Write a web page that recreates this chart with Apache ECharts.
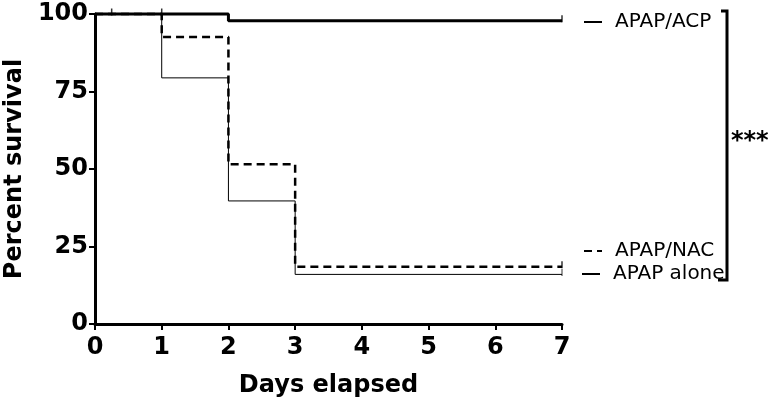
<!DOCTYPE html>
<html>
<head>
<meta charset="utf-8">
<script src="https://cdn.jsdelivr.net/npm/echarts@6/dist/echarts.min.js"></script>
<style>
  html, body { margin: 0; padding: 0; background: #fff; }
  #chart { width: 771px; height: 409px; }
</style>
</head>
<body>
<div id="chart"></div>
<script>
// 数据
const days = [0, 1, 2, 3, 7]
const acpValues = [100, 100, 97.8, 97.8, 97.8]
const nacValues = [100, 92.6, 51.5, 18.5, 18.5]
const aloneValues = [100, 79.4, 39.7, 16, 16]
// 删失标记
const acpCensored = [[0.25, 100], [1, 100], [7, 97.8]]
const nacCensored = [[7, 18.5]]
const aloneCensored = [[7, 16]]
const xTicks = [0, 1, 2, 3, 4, 5, 6, 7]
const yTicks = [0, 25, 50, 75, 100]

function pairs(xs, ys) {
    let out = []
    for (let i = 0; i < xs.length; i++) out.push([xs[i], ys[i]])
    return out
}

function censorSeries(data, width) {
    return {
        type: 'scatter',
        data: data,
        symbol: 'rect',
        symbolSize: [width, 7],
        symbolOffset: [0, -2],
        itemStyle: { color: '#000' },
        silent: true,
        clip: false,
        z: 5
    }
}

function legendAt(name, left, top) {
    return {
        data: [name],
        left: left,
        top: top,
        itemWidth: 18,
        itemHeight: 12,
        itemGap: 0,
        selectedMode: false,
        itemStyle: { opacity: 0 },
        textStyle: {
            fontFamily: 'DejaVu Sans',
            fontSize: 20,
            color: '#000',
            padding: [0, 0, 0, 8]
        }
    }
}

let myChart = echarts.init(document.getElementById('chart'))
myChart.setOption({
    animation: false,
    backgroundColor: '#fff',
    grid: { left: 95, right: 209, top: 14, bottom: 85, outerBoundsMode: 'none', containLabel: false },
    legend: [
        legendAt('APAP/ACP', 578, 7),
        legendAt('APAP/NAC', 578, 236),
        legendAt('APAP alone', 576, 259)
    ],
    xAxis: {
        type: 'value',
        min: 0,
        max: 7,
        interval: 1,
        name: 'Days elapsed',
        nameLocation: 'middle',
        nameGap: 50,
        nameTextStyle: { fontFamily: 'DejaVu Sans', fontWeight: 'bold', fontSize: 24, color: '#000' },
        axisLine: { lineStyle: { color: '#000', width: 3 } },
        axisTick: { length: 6, lineStyle: { color: '#000', width: 2 } },
        axisLabel: {
            margin: 12,
            fontFamily: 'DejaVu Sans',
            fontWeight: 'bold',
            fontSize: 24,
            color: '#000',
            formatter: v => xTicks.includes(v) ? String(v) : ''
        },
        splitLine: { show: false }
    },
    yAxis: {
        type: 'value',
        min: 0,
        max: 100,
        interval: 25,
        name: 'Percent survival',
        nameLocation: 'middle',
        nameRotate: 90,
        nameGap: 65,
        nameTextStyle: { fontFamily: 'DejaVu Sans', fontWeight: 'bold', fontSize: 24, color: '#000' },
        axisLine: { show: true, lineStyle: { color: '#000', width: 3 } },
        axisTick: { show: true, length: 6, lineStyle: { color: '#000', width: 2 } },
        axisLabel: {
            margin: 7,
            fontFamily: 'DejaVu Sans',
            fontWeight: 'bold',
            fontSize: 24,
            color: '#000',
            formatter: v => yTicks.includes(v) ? String(v) : ''
        },
        splitLine: { show: false }
    },
    series: [
        {
            name: 'APAP/ACP',
            type: 'line',
            step: 'end',
            data: pairs(days, acpValues),
            symbol: 'none',
            clip: false,
            lineStyle: { color: '#000', width: 3 },
            itemStyle: { color: '#000' },
            z: 3
        },
        {
            name: 'APAP/NAC',
            type: 'line',
            step: 'end',
            data: pairs(days, nacValues),
            symbol: 'none',
            clip: false,
            lineStyle: { color: '#000', width: 2.5, type: [8, 5] },
            itemStyle: { color: '#000' },
            z: 2
        },
        {
            name: 'APAP alone',
            type: 'line',
            step: 'end',
            data: pairs(days, aloneValues),
            symbol: 'none',
            clip: false,
            lineStyle: { color: '#000', width: 1 },
            itemStyle: { color: '#000' },
            z: 2
        },
        censorSeries(acpCensored, 1.5),
        censorSeries(nacCensored, 1.5),
        censorSeries(aloneCensored, 1)
    ],
    // 显著性括号
    graphic: [
        {
            type: 'polyline',
            shape: { points: [[721, 11], [727, 11], [727, 280], [718, 280]] },
            style: { stroke: '#000', lineWidth: 3, fill: null }
        },
        {
            type: 'text',
            left: 731,
            top: 130,
            style: { text: '***', fontFamily: 'DejaVu Sans', fontWeight: 'bold', fontSize: 24, fill: '#000' }
        }
    ]
})
</script>
</body>
</html>
